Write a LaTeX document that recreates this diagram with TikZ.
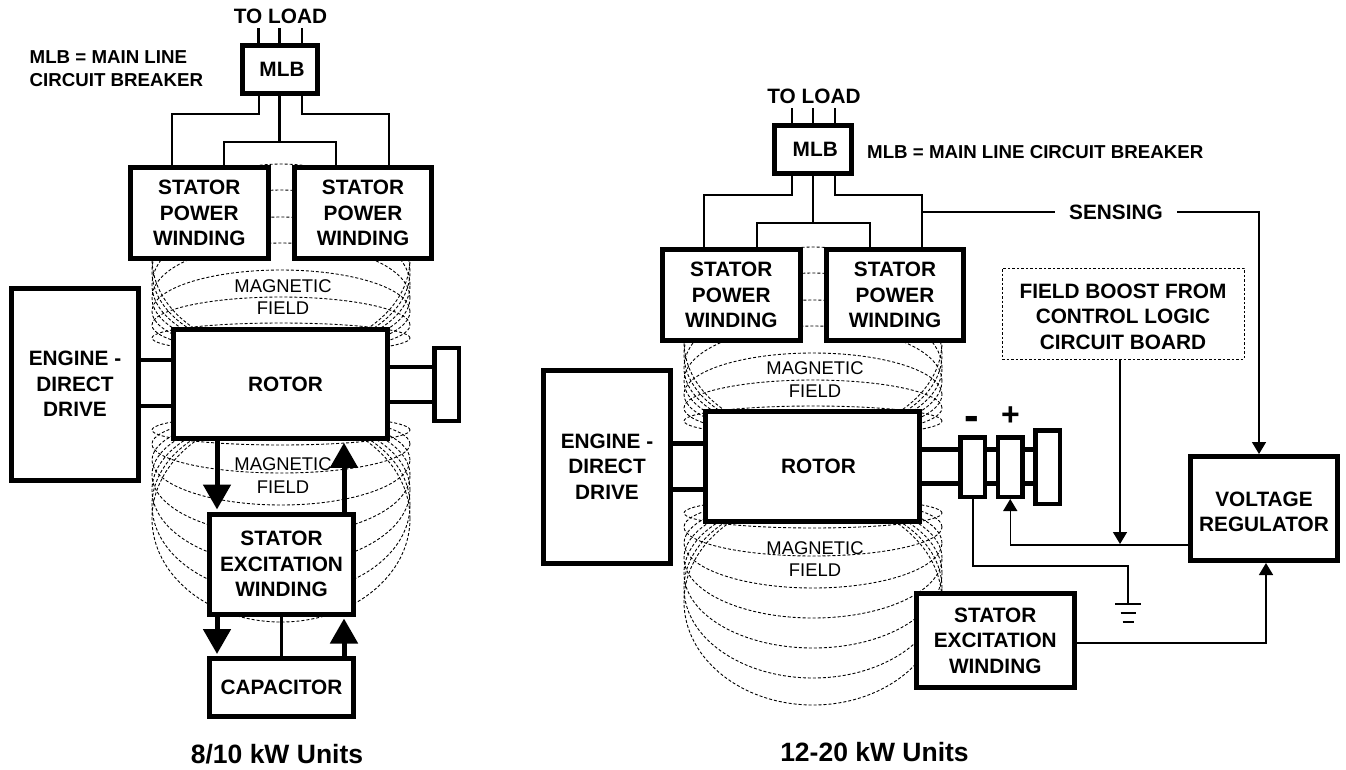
\documentclass[tikz,border=0pt]{standalone}
\usepackage{fontspec}
\setmainfont{Liberation Sans}
\usetikzlibrary{arrows.meta,positioning}

\newcommand{\fieldarcs}[2]{
  \begin{scope}[shift={(#1,#2)}]
    \foreach \peak in {323,297,270,243,217,190,164} {
      \draw[fieldline] (281,{(353+\peak)/2}) ellipse [x radius=129pt, y radius={(353-\peak)/2*1pt}];
    }
    \foreach \low in {445,473,505,535,565,595,622} {
      \draw[fieldline] (281,{(415+\low)/2}) ellipse [x radius=129pt, y radius={(\low-415)/2*1pt}];
    }
  \end{scope}
}

\begin{document}
\begin{tikzpicture}[
  x=1pt, y=-1pt,
  box/.style={draw, fill=white, line width=5pt, inner sep=0pt, align=center, font=\bfseries\fontsize{20.8}{25.5}\selectfont},
  ring/.style={draw, fill=white, line width=4.5pt, inner sep=0pt, minimum width=24.5pt},
  dottedbox/.style={draw, dashed, dash pattern=on 2.5pt off 2pt, line width=0.9pt, inner sep=0pt, align=center, font=\bfseries\fontsize{20.8}{25.5}\selectfont},
  tag/.style={inner sep=0pt, align=center, font=\bfseries\fontsize{20.8}{25.5}\selectfont},
  notetext/.style={inner sep=0pt, align=left, font=\bfseries\fontsize{18.7}{23}\selectfont},
  fieldtext/.style={inner sep=0pt, align=center, font=\fontsize{18.4}{22.5}\selectfont},
  unitname/.style={inner sep=0pt, font=\bfseries\fontsize{26.5}{30}\selectfont},
  signtext/.style={inner sep=0pt, font=\bfseries\fontsize{32}{34}\selectfont},
  minustext/.style={inner sep=0pt, font=\bfseries\fontsize{44}{46}\selectfont},
  fieldline/.style={dashed, dash pattern=on 3pt off 2pt, line width=0.9pt},
  wire/.style={draw, line width=2.2pt},
  thinwire/.style={draw, line width=1.5pt},
  shaft/.style={draw, line width=4.5pt},
  heavy/.style={draw, line width=5pt, -{Triangle[length=25pt,width=27pt]}, shorten >=2pt},
  feed/.style={draw, line width=1.5pt, -{Triangle[length=12pt,width=14pt]}}
]
\useasboundingbox (0,0) rectangle (1346,769);

\fieldarcs{0}{0}
\fieldarcs{532}{83}

\node[tag] (loadL) at (280.5,16) {TO LOAD};
\node[box, minimum width=75pt, minimum height=47.5pt] (mlbL) at (279.5,69.5) {\hspace*{5pt}MLB};
\node[notetext, anchor=west] (noteL) at (29.5,68.5) {MLB = MAIN LINE\\CIRCUIT BREAKER};
\node[box, minimum width=137.5pt, minimum height=91pt] (statorLa) at (199.25,213) {STATOR\\POWER\\WINDING};
\node[box, minimum width=137.5pt, minimum height=91pt] (statorLb) at (363,213) {STATOR\\POWER\\WINDING};
\node[box, minimum width=127pt, minimum height=192pt] (engineL) at (75,384) {ENGINE -\\DIRECT\\DRIVE};
\node[box, minimum width=214pt, minimum height=108.5pt] (rotorL) at (280.5,384) {\hspace*{10pt}ROTOR};
\node[ring, minimum height=73pt] (capL) at (446.5,384.5) {};
\node[box, minimum width=144pt, minimum height=100pt] (excL) at (281.5,564) {STATOR\\EXCITATION\\WINDING};
\node[box, minimum width=144pt, minimum height=58pt] (capacitor) at (281.5,687.5) {CAPACITOR};
\node[fieldtext] (fieldLa) at (283,297) {MAGNETIC\\FIELD};
\node[fieldtext] (fieldLb) at (283,475.5) {MAGNETIC\\FIELD};
\node[unitname] (unitL) at (277,754) {8/10 kW Units};

\draw[wire] ([xshift=-21pt]mlbL.north) -- ++(0,-15);
\draw[wire] (mlbL.north) -- ++(0,-15);
\draw[wire] ([xshift=22.5pt]mlbL.north) -- ++(0,-15);
\draw[wire] ([xshift=-20.5pt]mlbL.south) -- ++(0,18) -| ([xshift=-27pt]statorLa.north);
\draw[wire] ([xshift=22.5pt]mlbL.south) -- ++(0,18) -| ([xshift=26pt]statorLb.north);
\draw[wire] (mlbL.south) -- ++(0,46);
\draw[wire] ([xshift=24.75pt]statorLa.north) -- ++(0,-23) -| ([xshift=-27pt]statorLb.north);
\draw[shaft] ([yshift=24pt]engineL.east) -- ([yshift=24pt]rotorL.west);
\draw[shaft] ([yshift=-22pt]engineL.east) -- ([yshift=-22pt]rotorL.west);
\draw[shaft] ([yshift=17pt]rotorL.east) -- ([yshift=17.5pt]capL.west);
\draw[shaft] ([yshift=-18pt]rotorL.east) -- ([yshift=-17.5pt]capL.west);
\draw[heavy] ([xshift=-63.5pt]rotorL.south) -- ([xshift=-64.5pt]excL.north);
\draw[heavy] ([xshift=62.5pt]excL.north) -- ([xshift=63.5pt]rotorL.south);
\draw[heavy] ([xshift=-64.5pt]excL.south) -- ([xshift=-64.5pt]capacitor.north);
\draw[heavy] ([xshift=62.5pt]capacitor.north) -- ([xshift=62.5pt]excL.south);
\draw[wire, line width=2.5pt] (excL.south) -- (capacitor.north);

\node[tag] (loadR) at (814,96) {TO LOAD};
\node[box, minimum width=76.5pt, minimum height=48pt] (mlbR) at (812.75,149.5) {\hspace*{5pt}MLB};
\node[notetext, anchor=west] (noteR) at (867,152) {MLB = MAIN LINE CIRCUIT BREAKER};
\node[box, minimum width=137.5pt, minimum height=91pt] (statorRa) at (731.25,295) {STATOR\\POWER\\WINDING};
\node[box, minimum width=137.5pt, minimum height=91pt] (statorRb) at (895,295) {STATOR\\POWER\\WINDING};
\node[box, minimum width=127pt, minimum height=193pt] (engineR) at (607,466.5) {ENGINE -\\DIRECT\\DRIVE};
\node[box, minimum width=214pt, minimum height=110pt] (rotorR) at (812.5,466.5) {\hspace*{12pt}ROTOR};
\node[ring, minimum height=73.5pt] (capR) at (1047.75,467) {};
\draw[shaft] ([yshift=17pt]rotorR.east) -- ([yshift=17.5pt]capR.west);
\draw[shaft] ([yshift=-17pt]rotorR.east) -- ([yshift=-16.5pt]capR.west);
\node[ring, minimum height=59.5pt] (ringneg) at (972.75,467) {};
\node[ring, minimum height=59.5pt] (ringpos) at (1010.25,467) {};
\node[minustext] (signneg) at (971.5,423) {-};
\node[signtext] (signpos) at (1010.5,416) {+};
\node[box, minimum width=157.5pt, minimum height=94pt] (excR) at (995.25,640.5) {STATOR\\EXCITATION\\WINDING};
\node[box, minimum width=147.5pt, minimum height=104pt] (regulator) at (1264,508.5) {\rule{0pt}{21pt}VOLTAGE\\REGULATOR};
\node[dottedbox, minimum width=242pt, minimum height=91pt] (boost) at (1123,313.5) {\rule{0pt}{21pt}FIELD BOOST FROM\\CONTROL LOGIC\\CIRCUIT BOARD};
\node[tag, inner xsep=14pt] (sensing) at (1116,212) {SENSING};
\node[fieldtext] (fieldRa) at (815,379.5) {MAGNETIC\\FIELD};
\node[fieldtext] (fieldRb) at (815,559) {MAGNETIC\\FIELD};
\node[unitname] (unitR) at (874.5,752) {12-20 kW Units};

\coordinate (sensejoin) at (922,212);
\coordinate (boostend) at (1120,544);
\coordinate (gndtop) at (1128,566);
\coordinate (gndbar) at (1128,604);
\coordinate (gndmid) at (1128,613);
\coordinate (gndlow) at (1128,622);

\draw[thinwire] ([xshift=-21pt]mlbR.north) -- ++(0,-15);
\draw[thinwire] (mlbR.north) -- ++(0,-15);
\draw[thinwire] ([xshift=22pt]mlbR.north) -- ++(0,-15);
\draw[thinwire] ([xshift=-20.75pt]mlbR.south) -- ++(0,19) -| ([xshift=-27.25pt]statorRa.north);
\draw[thinwire] ([xshift=22.25pt]mlbR.south) -- ++(0,19) -| ([xshift=27pt]statorRb.north);
\draw[thinwire] (mlbR.south) -- ++(0,47);
\draw[thinwire] ([xshift=25.75pt]statorRa.north) -- ++(0,-24) -| ([xshift=-25pt]statorRb.north);
\draw[thinwire] (sensejoin) -- (sensing.west);
\draw[feed] (sensing.east) -| ([xshift=-5pt]regulator.north);
\draw[shaft] ([yshift=23pt]engineR.east) -- ([yshift=23pt]rotorR.west);
\draw[shaft] ([yshift=-23pt]engineR.east) -- ([yshift=-23pt]rotorR.west);
\draw[feed] ([yshift=-36.5pt]regulator.west) -| (ringpos.south);
\draw[feed] (boost.south -| boostend) -- (boostend);
\draw[feed] ([yshift=-2.5pt]excR.east) -| ([xshift=2pt]regulator.south);
\draw[thinwire] (ringneg.south) |- (gndtop) -- (gndbar);
\draw[thinwire] (gndbar) ++(-13,0) -- ++(26,0);
\draw[thinwire] (gndmid) ++(-7.5,0) -- ++(15,0);
\draw[thinwire] (gndlow) ++(-5.5,0) -- ++(11,0);
\end{tikzpicture}
\end{document}
